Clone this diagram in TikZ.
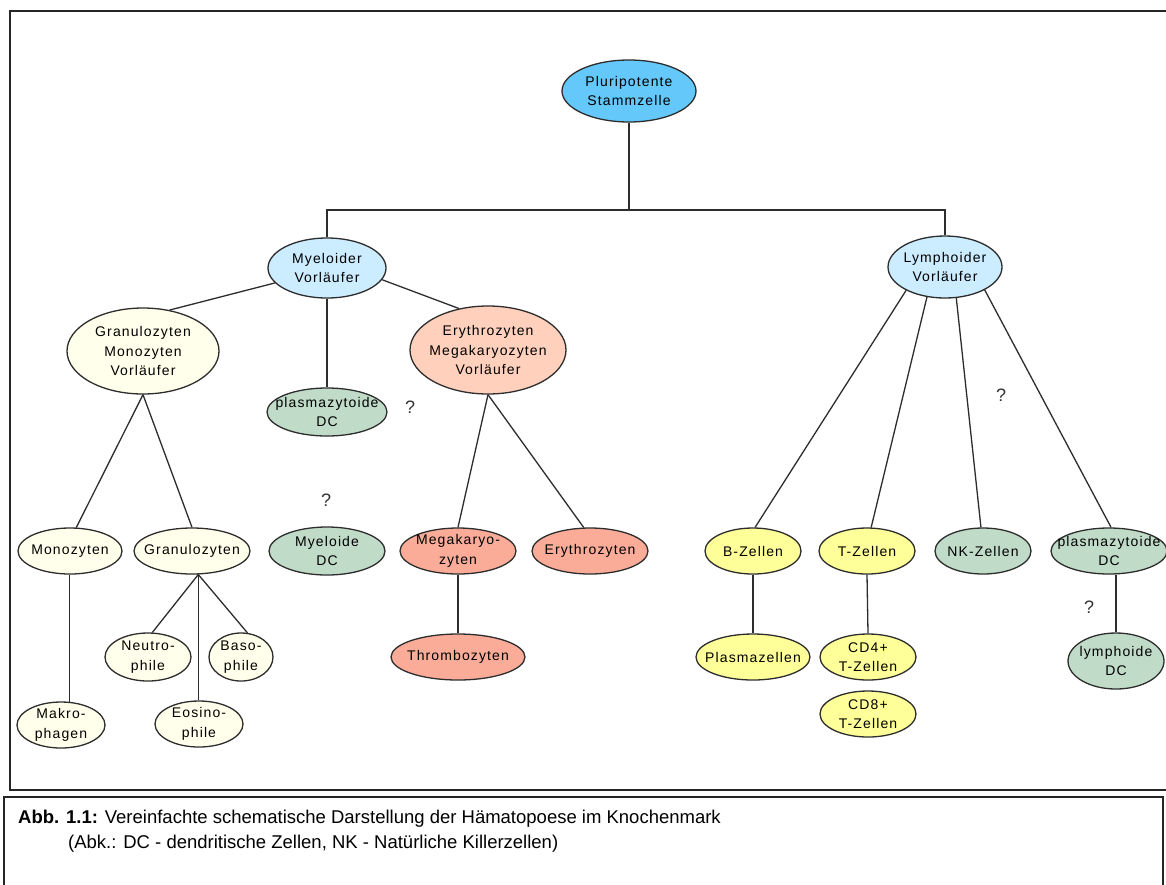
\documentclass[tikz,border=0pt]{standalone}
\usepackage{fontspec}
\usetikzlibrary{shapes.geometric}
\newfontfamily\nf[LetterSpace=8]{Liberation Sans}
\newfontfamily\cf{Liberation Sans}
\definecolor{stammblue}{RGB}{100,200,250}
\definecolor{lblue}{RGB}{204,236,255}
\definecolor{cream}{RGB}{255,255,235}
\definecolor{dcgreen}{RGB}{192,220,200}
\definecolor{peach}{RGB}{255,208,188}
\definecolor{salmon}{RGB}{250,172,152}
\definecolor{tyellow}{RGB}{255,255,153}
\definecolor{linecol}{RGB}{45,45,45}
\tikzset{
  cell/.style={ellipse, draw=linecol, line width=1.3pt, fill=#1, inner sep=0pt},
  sz/.style 2 args={minimum width=#1pt, minimum height=#2pt},
  lbl/.style={font=\nf\fontsize{14}{19.5}\selectfont, align=center, inner sep=0pt, text=black},
  txt/.style={label={[lbl]center:{#1}}},
  conn/.style={draw=linecol, line width=1.3pt},
  qm/.style={font=\cf\fontsize{18}{20}\selectfont, text=black!80, inner sep=0pt},
  frame/.style={draw=black!85, line width=2.4pt}
}
\begin{document}
\begin{tikzpicture}[x=1pt,y=-1pt]
\useasboundingbox (0,0) rectangle (1166,884);
\fill[white] (0,0) rectangle (1166,884);
\draw[frame] (10,11) rectangle (1180,790);
\draw[frame] (4,797) rectangle (1163,900);

% nodes
\node[cell=stammblue, sz={134}{62}, txt={Pluripotente\\Stammzelle}] (stamm) at (629,91) {};
\node[cell=lblue, sz={118}{60}, txt={Myeloider\\Vorläufer}] (mye) at (327,268) {};
\node[cell=lblue, sz={114}{62}, txt={Lymphoider\\Vorläufer}] (lym) at (945,267) {};
\node[cell=cream, sz={152}{86}, txt={Granulozyten\\Monozyten\\Vorläufer}] (gmv) at (143,351) {};
\node[cell=dcgreen, sz={120}{48}, txt={plasmazytoide\\DC}] (pdca) at (327,412) {};
\node[cell=peach, sz={156}{88}, txt={Erythrozyten\\Megakaryozyten\\Vorläufer}] (emv) at (488,350) {};
\node[cell=dcgreen, sz={116}{48}, txt={Myeloide\\DC}] (mdc) at (327,551) {};
\node[cell=cream, sz={104}{46}, txt={Monozyten}] (mono) at (70,551) {};
\node[cell=cream, sz={116}{46}, txt={Granulozyten}] (gran) at (192,551) {};
\node[cell=cream, sz={86}{48}, txt={Neutro-\\phile}] (neut) at (148,657) {};
\node[cell=cream, sz={64}{48}, txt={Baso-\\phile}] (baso) at (241,657) {};
\node[cell=cream, sz={88}{46}, txt={Eosino-\\phile}] (eos) at (199,724) {};
\node[cell=cream, sz={88}{46}, txt={Makro-\\phagen}] (makro) at (61,725) {};
\node[cell=salmon, sz={116}{46}, txt={Megakaryo-\\zyten}] (mega) at (458,551) {};
\node[cell=salmon, sz={116}{46}, txt={Erythrozyten}] (ery) at (590,551) {};
\node[cell=salmon, sz={134}{46}, txt={Thrombozyten}] (thromb) at (458,657) {};
\node[cell=tyellow, sz={96}{46}, txt={B-Zellen}] (bz) at (753,551) {};
\node[cell=tyellow, sz={96}{46}, txt={T-Zellen}] (tz) at (867,551) {};
\node[cell=dcgreen, sz={96}{46}, txt={NK-Zellen}] (nk) at (983,551) {};
\node[cell=dcgreen, sz={116}{46}, txt={plasmazytoide\\DC}] (pdcb) at (1109,551) {};
\node[cell=tyellow, sz={114}{46}, txt={Plasmazellen}] (plasma) at (753,657) {};
\node[cell=tyellow, sz={96}{46}, txt={CD4+\\T-Zellen}] (cdv) at (868,657) {};
\node[cell=tyellow, sz={96}{46}, txt={CD8+\\T-Zellen}] (cda) at (868,714) {};
\node[cell=dcgreen, sz={96}{56}, txt={lymphoide\\DC}] (ldc) at (1116,661) {};

% question marks
\node[qm] (qa) at (410,407) {?};
\node[qm] (qb) at (326,500) {?};
\node[qm] (qc) at (1001,395) {?};
\node[qm] (qd) at (1089,607) {?};

% connectors
\coordinate (j) at (629,210);
\draw[conn] (stamm.south) -- (j);
\draw[conn] (mye.north) |- (j) -| (lym.north);
\draw[conn] (mye.196) -- (gmv.57);
\draw[conn] (mye.south) -- (pdca.north);
\draw[conn] (mye.-12) -- (emv.125);
\draw[conn] (gmv.south) -- (mono.75);
\draw[conn] (gmv.south) -- (gran.north);
\draw[conn] (mono.south -| makro.70) -- (makro.70);
\draw[conn] (gran.-75) -- (neut.80);
\draw[conn] (gran.-75) -- (gran.-75 |- eos.north);
\draw[conn] (gran.-75) -- (baso.75);
\draw[conn] (emv.south) -- (mega.north);
\draw[conn] (emv.south) -- (ery.105);
\draw[conn] (mega.south) -- (thromb.north);
\draw[conn] (lym.211) -- (bz.85);
\draw[conn] (lym.239) -- (tz.80);
\draw[conn] (lym.-70) -- (nk.95);
\draw[conn] (lym.-30) -- (pdcb.85);
\draw[conn] (bz.south) -- (plasma.north);
\draw[conn] (tz.south) -- (cdv.north);
\draw[conn] (pdcb.south -| ldc.north) -- (ldc.north);

% caption
\node[anchor=base west, inner sep=0pt, font=\cf\fontsize{18.5}{22}\selectfont] (cap1) at (18,823) {\textbf{Abb. 1.1:} Vereinfachte schematische Darstellung der Hämatopoese im Knochenmark};
\node[anchor=base west, inner sep=0pt, font=\cf\fontsize{18.5}{22}\selectfont] (cap2) at (68,848) {(Abk.: DC - dendritische Zellen, NK - Natürliche Killerzellen)};
\end{tikzpicture}
\end{document}
